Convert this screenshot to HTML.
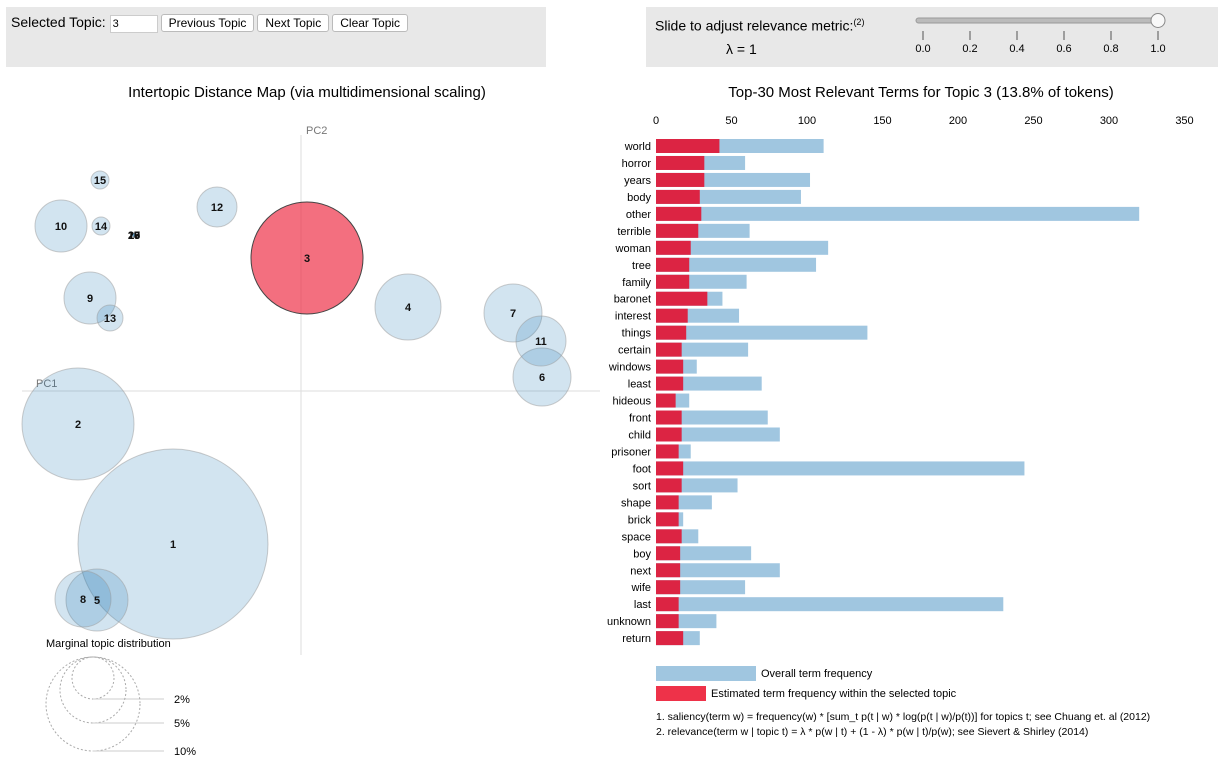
<!DOCTYPE html>
<html><head><meta charset="utf-8"><style>
body{margin:0;background:#fff;font-family:"Liberation Sans",sans-serif;}
.panel{position:absolute;background:#e8e8e8;}
button{font-family:"Liberation Sans",sans-serif;font-size:12px;background:#fff;border:1px solid #bbb;border-radius:3px;height:18px;padding:0 7px;margin-left:3px;}
</style></head><body>
<div class="panel" style="left:6px;top:7px;width:540px;height:60px;">
 <div style="position:absolute;left:5px;top:7px;font-size:14px;">Selected Topic: <input value="3" style="width:42px;height:14px;font-size:11px;border:1px solid #ccc;"><button>Previous Topic</button><button>Next Topic</button><button>Clear Topic</button></div>
</div>
<div class="panel" style="left:646px;top:7px;width:572px;height:60px;">
 <div style="position:absolute;left:9px;top:10px;font-size:14px;">Slide to adjust relevance metric:<sup style="font-size:9px">(2)</sup></div>
 <div style="position:absolute;left:80px;top:34px;font-size:14px;">λ = 1</div>
</div>
<svg width="1221" height="774" style="position:absolute;left:0;top:0" font-family="Liberation Sans, sans-serif" id="svg">
 <g>
  <rect x="916" y="18" width="244" height="5" rx="2.5" fill="#bbb" stroke="#999"/>
  <circle cx="1158" cy="20.5" r="7" fill="#f8f8f8" stroke="#888"/>
 </g>
 <text x="307" y="97" font-size="15" text-anchor="middle">Intertopic Distance Map (via multidimensional scaling)</text>
 <text x="921" y="97" font-size="15" text-anchor="middle">Top-30 Most Relevant Terms for Topic 3 (13.8% of tokens)</text>
 <g id="map"></g>
 <g id="bars"></g>
 <g>
  <rect x="656" y="666" width="100" height="15" fill="#a0c6e0"/>
  <text x="761" y="677" font-size="11">Overall term frequency</text>
  <rect x="656" y="686" width="50" height="15" fill="#ee3249"/>
  <text x="711" y="697" font-size="11">Estimated term frequency within the selected topic</text>
  <text x="656" y="720" font-size="10.5">1. saliency(term w) = frequency(w) * [sum_t p(t | w) * log(p(t | w)/p(t))] for topics t; see Chuang et. al (2012)</text>
  <text x="656" y="735" font-size="10.5">2. relevance(term w | topic t) = λ * p(w | t) + (1 - λ) * p(w | t)/p(w); see Sievert &amp; Shirley (2014)</text>
 </g>
</svg>
<script>
const NS="http://www.w3.org/2000/svg";
function mk(tag,attrs,parent,txt){const e=document.createElementNS(NS,tag);for(const k in attrs)e.setAttribute(k,attrs[k]);if(txt!==undefined)e.textContent=txt;parent.appendChild(e);return e;}
const svg=document.getElementById('svg');
// slider ticks
const sliderTicks=[0.0,0.2,0.4,0.6,0.8,1.0];
sliderTicks.forEach(v=>{const x=923+v*235;
 const l=mk('line',{x1:x,y1:31,x2:x,y2:40,stroke:'#555'},svg);
 
 
 const t=mk('text',{x:x,y:52,'font-size':11,'text-anchor':'middle'},svg,v.toFixed(1));
 
 });

// ---- topic map data ----
const topicIds=[1,2,3,4,5,6,7,8,9,10,11,12,13,14,15,16,17,18,19,20];
const topicPC1=[173,78,307,408,97,542,513,83,90,61,541,217,110,101,100,134,134,134,134,134];
const topicPC2=[544,424,258,307,600,377,313,599,298,226,341,207,318,226,180,235,235,235,235,235];
const topicRadius=[95,56,56,33,31,29,29,28,26,26,25,20,13,9,9,2,2,2,2,2];
const map=document.getElementById('map');
const ax1=mk('line',{x1:22,y1:391,x2:600,y2:391,stroke:'#ddd'},map);


const ax2=mk('line',{x1:301,y1:135,x2:301,y2:655,stroke:'#ddd'},map);


const l1=mk('text',{x:36,y:387,'font-size':11,fill:'#777'},map,'PC1');


const l2=mk('text',{x:306,y:134,'font-size':11,fill:'#777'},map,'PC2');


topicIds.forEach((id,i)=>{
 const sel=id===3;
 const c=mk('circle',{cx:topicPC1[i],cy:topicPC2[i],r:topicRadius[i],fill:sel?'#ee3249':'#1f77b4','fill-opacity':sel?0.7:0.2,stroke:sel?'#444':'#999','stroke-opacity':sel?1:0.5},map);
 
 
});
topicIds.forEach((id,i)=>{
 const t=mk('text',{x:topicPC1[i],y:topicPC2[i]+4,'font-size':11,'font-weight':'bold','text-anchor':'middle',fill:'#111'},map,String(id));
 
 
});
// marginal legend
const mt=mk('text',{x:46,y:647,'font-size':11},map,'Marginal topic distribution');


const margLabels=['2%','5%','10%'];
const margRadius=[21,33,47];
margLabels.forEach((lab,i)=>{const r=margRadius[i];const cy=657+r;
 const c=mk('circle',{cx:93,cy:cy,r:r,fill:'none',stroke:'#aaa','stroke-dasharray':'2 2'},map);
 
 
 mk('line',{x1:93,y1:cy+r,x2:164,y2:cy+r,stroke:'#ccc'},map);
 const t=mk('text',{x:174,y:cy+r+4,'font-size':11},map,lab);
 
 
});

// ---- bar chart data ----
const terms=['world','horror','years','body','other','terrible','woman','tree','family','baronet','interest','things','certain','windows','least','hideous','front','child','prisoner','foot','sort','shape','brick','space','boy','next','wife','last','unknown','return'];
const overallFreq=[111,59,102,96,320,62,114,106,60,44,55,140,61,27,70,22,74,82,23,244,54,37,18,28,63,82,59,230,40,29];
const topicFreq=[42,32,32,29,30,28,23,22,22,34,21,20,17,18,18,13,17,17,15,18,17,15,15,17,16,16,16,15,15,18];
const xTicks=[0,50,100,150,200,250,300,350];
const x0=656,pxPer=1.51,y0=139,step=16.97,bh=14;
const xs=v=>x0+v*pxPer;
const bars=document.getElementById('bars');
xTicks.forEach(v=>{const t=mk('text',{x:xs(v),y:124,'font-size':11,'text-anchor':'middle',fill:'#000'},bars,String(v));
 
 });
terms.forEach((w,i)=>{const y=y0+i*step;
 const b=mk('rect',{x:x0,y:y,width:overallFreq[i]*pxPer,height:bh,fill:'#a0c6e0'},bars);
 
 
 const r=mk('rect',{x:x0,y:y,width:topicFreq[i]*pxPer,height:bh,fill:'#dc2443'},bars);
 
 
 const t=mk('text',{x:651,y:y+11,'font-size':11,'text-anchor':'end'},bars,w);
 
 
});
</script>
</body></html>
